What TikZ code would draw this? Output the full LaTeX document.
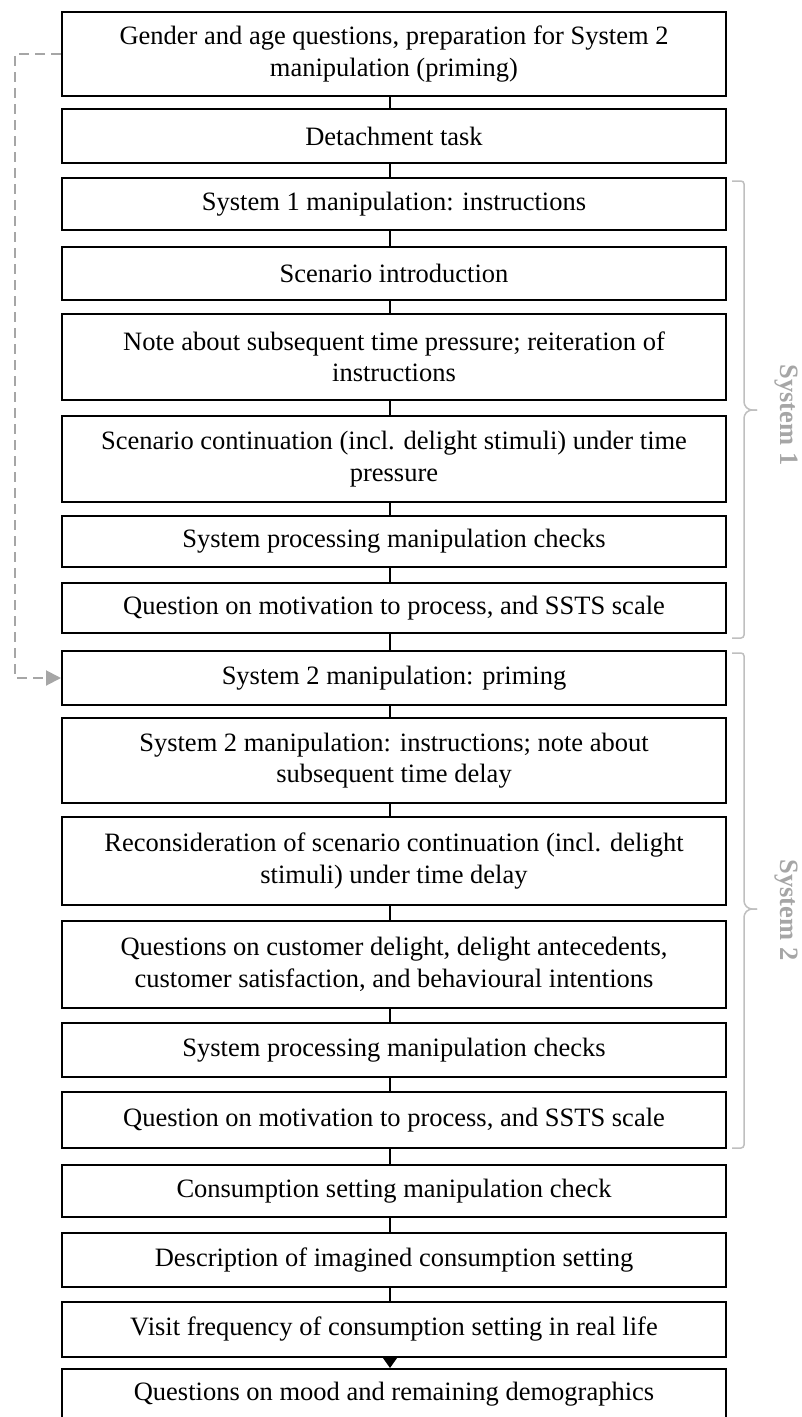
\documentclass[tikz,border=0pt]{standalone}
\usepackage{fontspec}
\setmainfont{Liberation Serif}
\usetikzlibrary{arrows.meta,calc}
\definecolor{braceGray}{HTML}{BFBFBF}
\definecolor{labelGray}{HTML}{A6A6A6}
\definecolor{dashGray}{HTML}{A6A6A6}
\begin{document}
\begin{tikzpicture}[x=1pt,y=-1pt,
  stepbox/.style={draw=black, line width=2pt, fill=white, minimum width=664pt,
    inner sep=0pt, align=center, font=\fontsize{26.5}{31.5}\selectfont},
  link/.style={draw=black, line width=2pt},
  lastlink/.style={draw=black, line width=2pt, -{Triangle[length=11pt,width=15pt]}},
  feedback/.style={draw=dashGray, line width=2pt, dash pattern=on 10pt off 6pt,
    -{Triangle[length=15pt,width=15pt]}},
  bracepath/.style={draw=braceGray, line width=1.5pt, rounded corners=3pt},
  grouplabel/.style={text=labelGray, font=\fontsize{26.5}{31.5}\selectfont\bfseries, rotate=-90}
]
\useasboundingbox (0,0) rectangle (801,1417);

% vertical spine used by the connectors
\coordinate (spine) at (390,0);

% process steps
\node[stepbox, minimum height=84pt] (b1) at (394,54) {Gender and age questions, preparation for System 2\\manipulation (priming)};
\node[stepbox, minimum height=54pt] (b2) at (394,136) {Detachment task};
\node[stepbox, minimum height=52pt] (b3) at (394,204) {System 1 manipulation: instructions};
\node[stepbox, minimum height=53pt] (b4) at (394,273.5) {Scenario introduction};
\node[stepbox, minimum height=86pt] (b5) at (394,357) {Note about subsequent time pressure; reiteration of\\instructions};
\node[stepbox, minimum height=86pt] (b6) at (394,459) {Scenario continuation (incl. delight stimuli) under time\\pressure};
\node[stepbox, minimum height=51pt] (b7) at (394,541.5) {System processing manipulation checks};
\node[stepbox, minimum height=50pt] (b8) at (394,608) {Question on motivation to process, and SSTS scale};
\node[stepbox, minimum height=54pt] (b9) at (394,678) {System 2 manipulation: priming};
\node[stepbox, minimum height=85pt] (b10) at (394,760.5) {System 2 manipulation: instructions; note about\\subsequent time delay};
\node[stepbox, minimum height=88pt] (b11) at (394,861) {Reconsideration of scenario continuation (incl. delight\\stimuli) under time delay};
\node[stepbox, minimum height=87pt] (b12) at (394,964.5) {Questions on customer delight, delight antecedents,\\customer satisfaction, and behavioural intentions};
\node[stepbox, minimum height=54pt] (b13) at (394,1050) {System processing manipulation checks};
\node[stepbox, minimum height=56pt] (b14) at (394,1120) {Question on motivation to process, and SSTS scale};
\node[stepbox, minimum height=52pt] (b15) at (394,1191) {Consumption setting manipulation check};
\node[stepbox, minimum height=54pt] (b16) at (394,1260) {Description of imagined consumption setting};
\node[stepbox, minimum height=55pt] (b17) at (394,1329.5) {Visit frequency of consumption setting in real life};
\node[stepbox, minimum height=51pt] (b18) at (394,1394.5) {Questions on mood and remaining demographics};

% connectors between consecutive steps
\foreach \a/\b in {b1/b2,b2/b3,b3/b4,b4/b5,b5/b6,b6/b7,b7/b8,b8/b9,b9/b10,
                   b10/b11,b11/b12,b12/b13,b13/b14,b14/b15,b15/b16,b16/b17}
  \draw[link] (\a.south -| spine) -- (\b.north -| spine);
\draw[lastlink] (b17.south -| spine) -- (b18.north -| spine);

% priming feedback to the System 2 block
\draw[feedback] (b1.west) -- ++(-46,0) |- (b9.west);

% group braces
\draw[bracepath] (732,181) -- (744,181) -- (744,405) -- (749,410) -- (757,410);
\draw[bracepath] (757,410) -- (749,410) -- (744,415) -- (744,638) -- (732,638);
\node[grouplabel] (g1) at (786,415) {System 1};

\draw[bracepath] (732,653) -- (744,653) -- (744,904) -- (749,909) -- (757,909);
\draw[bracepath] (757,909) -- (749,909) -- (744,914) -- (744,1148) -- (732,1148);
\node[grouplabel] (g2) at (786,910) {System 2};
\end{tikzpicture}
\end{document}
